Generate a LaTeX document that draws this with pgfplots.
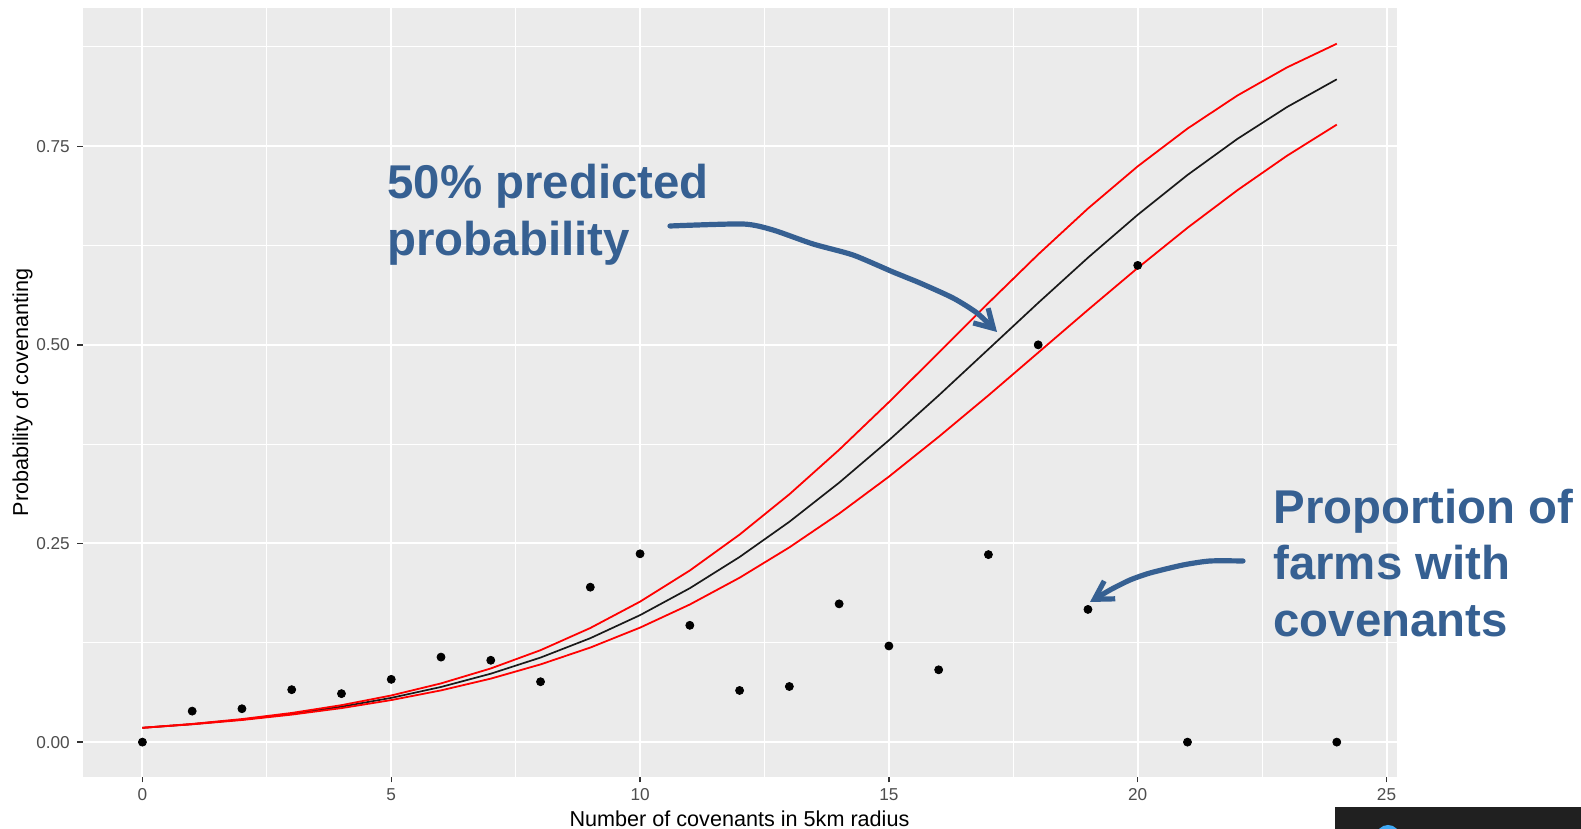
\documentclass[border=0pt]{standalone}
\usepackage{pgfplots}
\pgfplotsset{compat=1.18}
\usepackage{pgfplotstable}
\usepackage{fontspec}
\setmainfont{Liberation Sans}
\usetikzlibrary{arrows.meta}
\definecolor{panelgray}{HTML}{EBEBEB}
\definecolor{tickgray}{HTML}{333333}
\definecolor{labgray}{HTML}{4D4D4D}
\definecolor{annblue}{RGB}{54,96,146}
\definecolor{darkbox}{HTML}{202020}
\definecolor{logoblue}{HTML}{3FA9F5}

\pgfplotstableread{
x y
0 0
1 0.039
2 0.042
3 0.066
4 0.061
5 0.079
6 0.107
7 0.103
8 0.076
9 0.195
10 0.237
11 0.147
12 0.065
13 0.070
14 0.174
15 0.121
16 0.091
17 0.236
18 0.500
19 0.167
20 0.600
21 0
24 0
}\props

\pgfplotstableread{
x fit lo hi
0 0.0180 0.0180 0.0180
1 0.0226 0.0224 0.0229
2 0.0284 0.0278 0.0290
3 0.0356 0.0346 0.0367
4 0.0446 0.0428 0.0465
5 0.0557 0.0529 0.0587
6 0.0694 0.0651 0.0739
7 0.0861 0.0799 0.0927
8 0.1064 0.0978 0.1157
9 0.1308 0.1190 0.1436
10 0.1598 0.1441 0.1768
11 0.1937 0.1732 0.2160
12 0.2330 0.2069 0.2612
13 0.2773 0.2451 0.3119
14 0.3265 0.2876 0.3679
15 0.3799 0.3341 0.4279
16 0.4363 0.3842 0.4900
17 0.4945 0.4364 0.5527
18 0.5528 0.4902 0.6138
19 0.6097 0.5440 0.6716
20 0.6637 0.5968 0.7247
21 0.7138 0.6473 0.7722
22 0.7591 0.6945 0.8137
23 0.7993 0.7380 0.8492
24 0.8342 0.7772 0.8790
}\fits

\begin{document}
\begin{tikzpicture}
\useasboundingbox (0,0) rectangle (790.5pt,414.5pt);
\begin{axis}[
  at={(41.35pt,26pt)}, anchor=south west,
  scale only axis, width=656.9pt, height=384.35pt,
  xmin=-1.2, xmax=25.2, ymin=-0.0439, ymax=0.9236,
  axis background/.style={fill=panelgray},
  axis line style={draw=none},
  xtick={0,5,10,15,20,25},
  ytick={0,0.25,0.5,0.75},
  yticklabels={0.00,0.25,0.50,0.75},
  minor xtick={2.5,7.5,12.5,17.5,22.5},
  minor ytick={0.125,0.375,0.625,0.875},
  grid=both,
  major grid style={white, line width=1pt},
  minor grid style={white, line width=0.5pt},
  tick align=outside,
  xtick pos=bottom, ytick pos=left,
  major tick length=2.75pt, minor tick length=0pt,
  tick style={tickgray, line width=0.7pt},
  ticklabel style={font=\fontsize{8.6pt}{10pt}\selectfont, text=labgray, inner sep=0pt},
  xticklabel style={yshift=-3pt},
  yticklabel style={xshift=-3.5pt},
  /pgf/number format/assume math mode=true,
]
\addplot[only marks, mark=*, mark size=2pt, black] table[x=x, y=y] {\props};
\addplot[black!90, line width=0.85pt] table[x=x, y=fit] {\fits};
\addplot[red, line width=0.9pt] table[x=x, y=hi] {\fits};
\addplot[red, line width=0.9pt] table[x=x, y=lo] {\fits};
\end{axis}

\begin{scope}[x=0.5pt, y=-0.5pt, yshift=414.5pt]
  % axis titles
  \node[anchor=base, inner sep=0pt, font=\fontsize{10.8pt}{13pt}\selectfont] at (739.5,826.5) {Number of covenants in 5km radius};
  \node[rotate=90, anchor=center, inner sep=0pt, font=\fontsize{10.8pt}{13pt}\selectfont] at (22.5,392.6) {Probability of covenanting};
  % annotations
  \begin{scope}[every node/.style={anchor=base west, inner sep=0pt, text=annblue, font=\fontsize{23.7pt}{28.6pt}\selectfont\bfseries}]
    \node at (387,198.3) {50\% predicted};
    \node at (387,256) {probability};
    \node at (1273,523.3) {Proportion of};
    \node at (1273,580) {farms with};
    \node at (1273,636.7) {covenants};
  \end{scope}
  \draw[annblue, line width=2.6pt, line cap=round, line join=round, -{Straight Barb[length=9pt, width=10.5pt]}]
    plot[smooth, tension=0.4] coordinates {(670,226) (743,224) (773,230) (813,244) (853,255) (893,272) (920,283) (953,298) (977,313) (997,332)};
  \draw[annblue, line width=2.6pt, line cap=round, line join=round, -{Straight Barb[length=9pt, width=10.5pt]}]
    plot[smooth, tension=0.4] coordinates {(1243,561) (1210,561) (1183,565) (1150,573) (1130,580) (1110,590) (1090,602)};
  % screen overlay in the corner
  \begin{scope}
    \clip (1335,806.7) rectangle (1581,829);
    \fill[darkbox] (1335,806.7) rectangle (1581,829);
    \fill[logoblue] (1388,837) circle (12);
  \end{scope}
\end{scope}
\end{tikzpicture}
\end{document}
